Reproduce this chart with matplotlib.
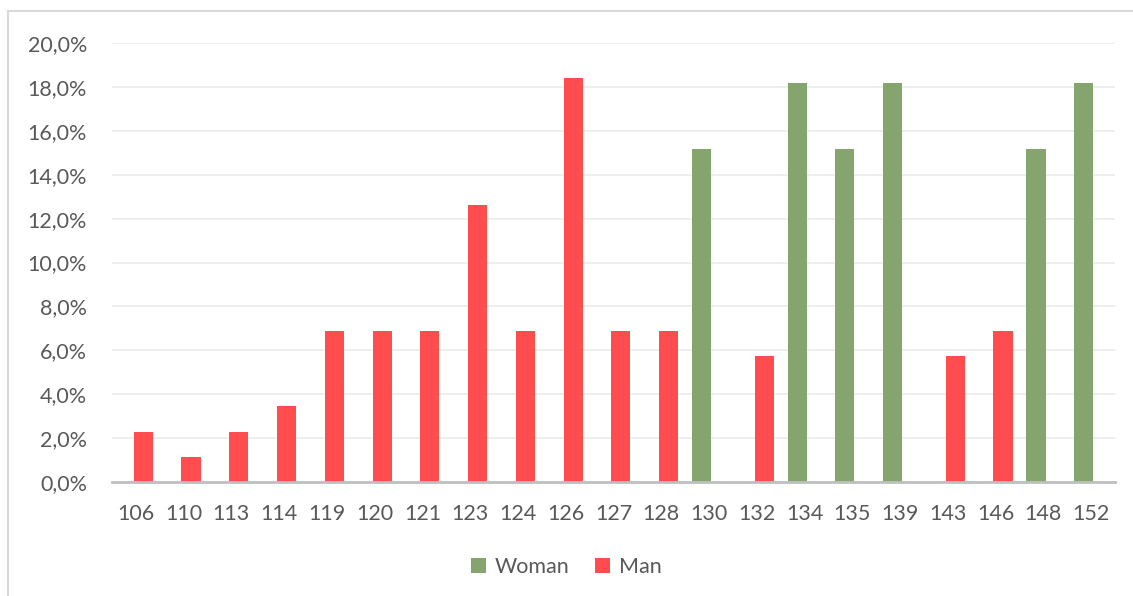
import numpy as np
import matplotlib.pyplot as plt
from matplotlib.ticker import FuncFormatter

#### Data ####
categories = ['106', '110', '113', '114', '119', '120', '121', '123', '124', '126', '127',
              '128', '130', '132', '134', '135', '139', '143', '146', '148', '152']
woman = [0, 0, 0, 0, 0, 0, 0, 0, 0, 0, 0,
         0, 15.15, 0, 18.18, 15.15, 18.18, 0, 0, 15.15, 18.18]
man = [2.3, 1.15, 2.3, 3.45, 6.9, 6.9, 6.9, 12.64, 6.9, 18.39, 6.9,
       6.9, 0, 5.75, 0, 0, 0, 5.75, 6.9, 0, 0]

green = '#84A66E'
red = '#FF4D4F'
txt = '#595959'

plt.rcParams['font.family'] = ['Lato', 'DejaVu Sans']

fig = plt.figure(figsize=(11.33, 5.96), dpi=100)
ax = fig.add_axes([112/1133, 1-482/596, (1115-112)/1133, (482-43)/596])

x = np.arange(len(categories))
w = 0.40
off = 0.155
ax.bar(x - off, woman, width=w, color=green, label='Woman', zorder=3)
ax.bar(x + off, man, width=w, color=red, label='Man', zorder=3)

ax.set_xlim(-0.5, len(categories) - 0.5)
ax.set_ylim(0, 20)
ax.set_yticks(np.arange(0, 21, 2))
ax.yaxis.set_major_formatter(FuncFormatter(lambda v, p: ('%.1f%%' % v).replace('.', ',')))
ax.set_xticks(x)
ax.set_xticklabels(categories)

ax.grid(axis='y', color='#EBEBEB', linewidth=1.2, zorder=0)
for s in ['top', 'right', 'left']:
    ax.spines[s].set_visible(False)
ax.spines['bottom'].set_color('#BFBFBF')
ax.spines['bottom'].set_linewidth(2)
ax.spines['bottom'].set_zorder(4)
ax.tick_params(axis='both', length=0, labelsize=15.5, labelcolor=txt)
ax.tick_params(axis='x', pad=16)
ax.tick_params(axis='y', pad=18)

fig.legend(loc='center', bbox_to_anchor=(0.5, 1-567/596), ncol=2, frameon=False,
           fontsize=15.5, labelcolor=txt, handlelength=0.7, handleheight=0.7,
           handletextpad=0.4, columnspacing=1.2)

# outer chart border
fig.add_artist(plt.Line2D([8/1133, 8/1133], [0, 1-11/596], color='#D9D9D9', lw=1.5))
fig.add_artist(plt.Line2D([8/1133, 1], [1-11/596, 1-11/596], color='#D9D9D9', lw=1.5))

fig.savefig('out.png', dpi=100)
